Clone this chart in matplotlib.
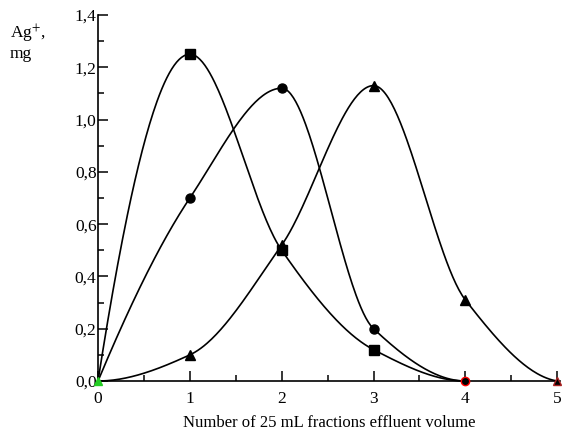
import numpy as np
import matplotlib.pyplot as plt
from matplotlib.ticker import MultipleLocator, FuncFormatter

plt.rcParams['font.family'] = ['Liberation Serif', 'DejaVu Serif']
plt.rcParams['mathtext.fontset'] = 'stix'

# data
x_sq = [0, 1, 2, 3, 4]
y_sq = [0, 1.25, 0.50, 0.12, 0]
x_ci = [0, 1, 2, 3, 4]
y_ci = [0, 0.70, 1.12, 0.20, 0]
x_tr = [0, 1, 2, 3, 4, 5]
y_tr = [0, 0.10, 0.52, 1.13, 0.31, 0]


def smooth(x, y, n=300):
    # monotone cubic (pchip-like) curve through the points
    x = np.asarray(x, float)
    y = np.asarray(y, float)
    h = np.diff(x)
    dl = np.diff(y) / h
    m = len(x)
    d = np.zeros(m)
    for i in range(1, m - 1):
        if dl[i - 1] * dl[i] > 0:
            w1 = 2 * h[i] + h[i - 1]
            w2 = h[i] + 2 * h[i - 1]
            d[i] = (w1 + w2) / (w1 / dl[i - 1] + w2 / dl[i])
    for j, (a, b, ha, hb) in enumerate([(dl[0], dl[1], h[0], h[1]),
                                         (dl[-1], dl[-2], h[-1], h[-2])]):
        e = ((2 * ha + hb) * a - ha * b) / (ha + hb)
        if np.sign(e) != np.sign(a):
            e = 0
        elif np.sign(a) != np.sign(b) and abs(e) > abs(3 * a):
            e = 3 * a
        d[0 if j == 0 else -1] = e
    xs = np.linspace(x[0], x[-1], n)
    ys = np.zeros_like(xs)
    for k, xv in enumerate(xs):
        i = min(np.searchsorted(x, xv, side='right') - 1, m - 2)
        t = (xv - x[i]) / h[i]
        ys[k] = (2 * t ** 3 - 3 * t ** 2 + 1) * y[i] + (t ** 3 - 2 * t ** 2 + t) * h[i] * d[i] \
            + (-2 * t ** 3 + 3 * t ** 2) * y[i + 1] + (t ** 3 - t ** 2) * h[i] * d[i + 1]
    return xs, ys


fig = plt.figure(figsize=(5.62, 4.34), dpi=100)
ax = fig.add_axes([0.1744, 0.1221, 0.822, 0.8433])

for xx, yy, mk in [(x_sq, y_sq, 's'), (x_ci, y_ci, 'o'), (x_tr, y_tr, '^')]:
    xs, ys = smooth(xx, yy)
    ax.plot(xs, ys, color='black', lw=1.2, clip_on=False)
    ax.plot(xx[1:-1], yy[1:-1], mk, color='black', ms=6.5, clip_on=False, zorder=3)

# end points
ax.plot([0], [0], '^', color='#22cc22', ms=6, clip_on=False, zorder=4)
ax.plot([4], [0], 'o', color='black', mec='red', ms=6, clip_on=False, zorder=4)
ax.plot([5], [0], '^', color='black', mec='#aa2222', ms=6, clip_on=False, zorder=4)

ax.set_xlim(0, 5.03)
ax.set_ylim(0, 1.4)
ax.spines['top'].set_visible(False)
ax.spines['right'].set_visible(False)
ax.spines['left'].set_linewidth(1.2)
ax.spines['bottom'].set_linewidth(1.2)

ax.xaxis.set_major_locator(MultipleLocator(1))
ax.xaxis.set_minor_locator(MultipleLocator(0.5))
ax.yaxis.set_major_locator(MultipleLocator(0.2))
ax.yaxis.set_minor_locator(MultipleLocator(0.1))
ax.yaxis.set_major_formatter(FuncFormatter(lambda v, p: f"{v:.1f}".replace('.', ',')))
ax.tick_params(which='major', direction='in', length=7, width=1.1, labelsize=12.5, pad=1)
ax.tick_params(which='minor', direction='in', length=4, width=1.1)
ax.tick_params(axis='x', pad=7)

ax.set_xlabel('Number of 25 mL fractions effluent volume', fontsize=12, labelpad=6)
fig.text(0.018, 0.912, 'Ag$^{+}$,', fontsize=12.5)
fig.text(0.018, 0.866, 'mg', fontsize=12.5)

fig.savefig('out.png', dpi=100)
